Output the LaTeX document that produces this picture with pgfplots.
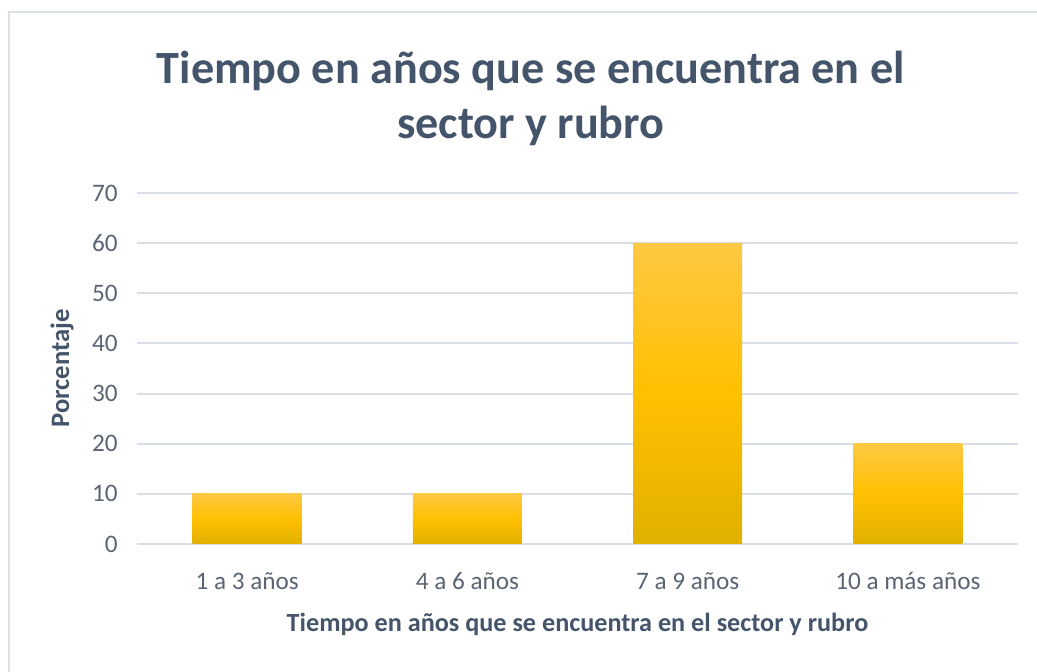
\documentclass[border=0pt]{standalone}
\usepackage{pgfplots}
\pgfplotsset{compat=1.18}
\usepackage{fontspec}
\setmainfont{Carlito}
\definecolor{titleslate}{HTML}{44546A}
\definecolor{ticktext}{HTML}{5A6474}
\definecolor{gridc}{HTML}{D9DEE6}
\definecolor{framec}{HTML}{DCE1E8}
\definecolor{bartop}{HTML}{FFC843}
\definecolor{barmid}{HTML}{FFC000}
\definecolor{barbot}{HTML}{E1B000}
\pgfplotsset{gradbar/.style={ybar, bar width=54.5pt, bar shift=0pt, draw=none,
    top color=bartop, bottom color=barbot, middle color=barmid}}
\begin{document}
\begin{tikzpicture}
\path[use as bounding box] (-68.5pt,-64pt) rectangle (450pt,272pt);
\clip (-68.5pt,-64pt) rectangle (450pt,272pt);
\draw[framec, line width=1pt] (-64pt,-100pt) rectangle (520pt,266pt);
\begin{axis}[
    scale only axis,
    width=440.5pt, height=175.5pt,
    at={(0pt,0pt)}, anchor=south west,
    clip=false,
    xmin=-0.5, xmax=3.5,
    ymin=0, ymax=70,
    ytick={0,10,...,70},
    xtick={0,1,2,3},
    xticklabels={1 a 3 años, 4 a 6 años, 7 a 9 años, 10 a más años},
    axis line style={draw=none},
    major tick length=0pt,
    ymajorgrids,
    grid style={gridc, line width=1pt},
    ticklabel style={font=\fontsize{12.6}{15}\selectfont, text=ticktext},
    /pgf/number format/assume math mode=true,
    yticklabel style={anchor=east, inner sep=0pt, xshift=-9.5pt},
    xticklabel style={anchor=base, inner sep=0pt, yshift=-23pt},
]
% one plot per bar so that each bar gets its own gradient
\addplot[gradbar] coordinates {(0,10)};
\addplot[gradbar] coordinates {(1,10)};
\addplot[gradbar] coordinates {(2,60)};
\addplot[gradbar] coordinates {(3,20)};

% title, two lines
\node[anchor=base, inner sep=0pt, text=titleslate, font=\bfseries\fontsize{23.1}{28}\selectfont]
    at (rel axis cs:0.447,1.311) {Tiempo en años que se encuentra en el};
\node[anchor=base, inner sep=0pt, text=titleslate, font=\bfseries\fontsize{23.1}{28}\selectfont]
    at (rel axis cs:0.447,1.154) {sector y rubro};
% axis labels
\node[anchor=base, inner sep=0pt, text=titleslate, font=\bfseries\fontsize{13.1}{16}\selectfont]
    at (rel axis cs:0.5,-0.2507) {Tiempo en años que se encuentra en el sector y rubro};
\node[rotate=90, inner sep=0pt, text=titleslate, font=\bfseries\fontsize{13.3}{16}\selectfont]
    at (rel axis cs:-0.0851,0.5) {Porcentaje};
\end{axis}
\end{tikzpicture}
\end{document}
